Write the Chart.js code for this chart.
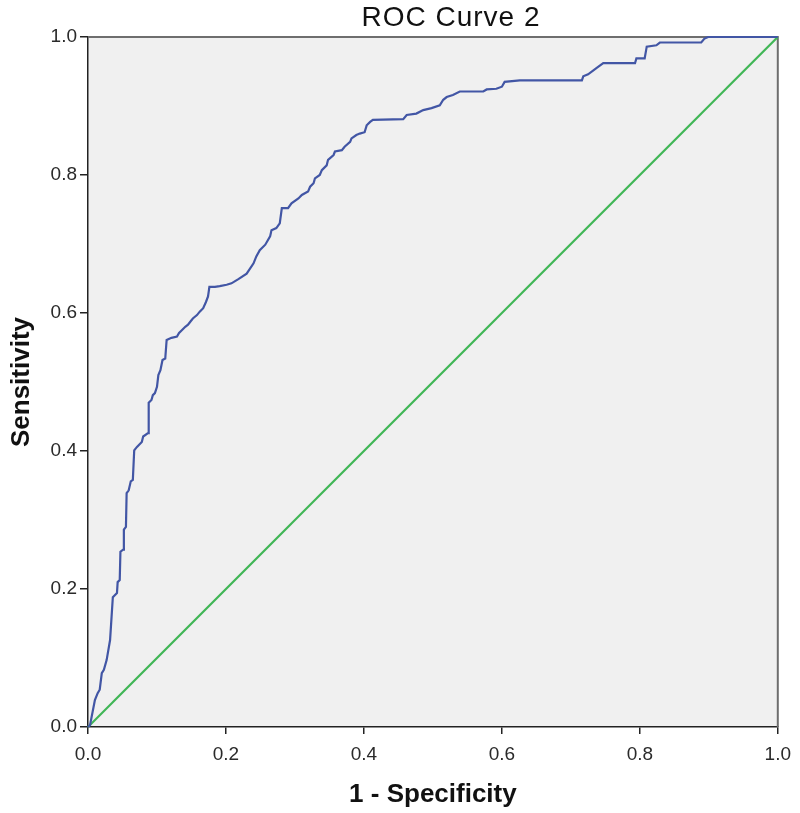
<!DOCTYPE html>
<html>
<head>
<meta charset="utf-8">
<script src="https://cdn.jsdelivr.net/npm/chart.js@4"></script>
<style>
  html, body { margin: 0; padding: 0; background: #ffffff; }
  #wrap { width: 800px; height: 813px; position: relative; }
</style>
</head>
<body>
<div id="wrap"><canvas id="c" width="800" height="813"></canvas></div>
<script>
// ROC curve vertices (1 - Specificity, Sensitivity)
const fpr = [0,0.003,0.010,0.014,0.017,0.020,0.023,0.027,0.032,0.036,
  0.042,0.043,0.046,0.047,0.051,0.052,0.055,0.056,0.059,0.062,
  0.065,0.067,0.071,0.078,0.080,0.087,0.088,0.092,0.094,0.097,
  0.100,0.102,0.105,0.108,0.112,0.114,0.121,0.129,0.132,0.136,
  0.141,0.145,0.148,0.152,0.158,0.162,0.167,0.171,0.174,0.176,
  0.184,0.191,0.201,0.208,0.218,0.230,0.240,0.244,0.249,0.257,
  0.264,0.266,0.273,0.278,0.281,0.290,0.295,0.305,0.310,0.319,
  0.322,0.327,0.329,0.336,0.339,0.346,0.348,0.356,0.358,0.368,
  0.372,0.380,0.382,0.389,0.394,0.401,0.404,0.409,0.413,0.457,
  0.462,0.476,0.486,0.498,0.510,0.515,0.520,0.529,0.539,0.573,
  0.578,0.592,0.600,0.604,0.626,0.716,0.718,0.725,0.737,0.747,
  0.793,0.795,0.807,0.810,0.824,0.829,0.889,0.894,0.899,1.0];
const tpr = [0,0.003,0.039,0.049,0.054,0.078,0.083,0.097,0.126,0.188,
  0.194,0.210,0.213,0.254,0.257,0.286,0.290,0.339,0.343,0.356,
  0.358,0.401,0.406,0.413,0.421,0.426,0.470,0.474,0.481,0.484,
  0.493,0.510,0.517,0.532,0.534,0.561,0.564,0.566,0.571,0.575,
  0.580,0.583,0.587,0.592,0.597,0.602,0.607,0.616,0.624,0.638,
  0.638,0.639,0.641,0.643,0.649,0.657,0.672,0.682,0.691,0.699,
  0.711,0.720,0.723,0.730,0.752,0.752,0.759,0.766,0.771,0.776,
  0.783,0.788,0.795,0.800,0.807,0.814,0.822,0.829,0.834,0.836,
  0.841,0.848,0.853,0.858,0.860,0.862,0.872,0.877,0.880,0.881,
  0.887,0.889,0.894,0.897,0.901,0.909,0.913,0.916,0.921,0.921,
  0.924,0.925,0.928,0.935,0.937,0.937,0.943,0.946,0.955,0.962,
  0.962,0.969,0.969,0.986,0.988,0.992,0.992,0.998,1.0,1.0];
// Reference (diagonal) line
const refX = [0, 1];
const refY = [0, 1];
// Axis ticks
const tickValues = [0.0, 0.2, 0.4, 0.6, 0.8, 1.0];
const titleText = "ROC Curve 2";
const xTitle = "1 - Specificity";
const yTitle = "Sensitivity";

const rocPoints = fpr.map((x, i) => ({ x: x, y: tpr[i] }));
const refPoints = refX.map((x, i) => ({ x: x, y: refY[i] }));

const FONT = "'Liberation Sans', Arial, sans-serif";

const plotBg = {
  id: 'plotBg',
  beforeDraw(chart) {
    const a = chart.chartArea, ctx = chart.ctx;
    ctx.save();
    ctx.fillStyle = '#f0f0f0';
    ctx.fillRect(a.left, a.top, a.right - a.left, a.bottom - a.top);
    ctx.restore();
  },
  beforeDatasetsDraw(chart) {
    const a = chart.chartArea, ctx = chart.ctx;
    ctx.save();
    ctx.strokeStyle = '#6e6e6e';
    ctx.lineWidth = 2;
    ctx.beginPath();
    ctx.moveTo(a.left, a.top);
    ctx.lineTo(a.right, a.top);
    ctx.lineTo(a.right, a.bottom);
    ctx.stroke();
    ctx.restore();
  },
  afterDraw(chart) {
    // Chart title, placed as in the reference (slightly right of centre)
    const ctx = chart.ctx;
    ctx.save();
    ctx.fillStyle = '#111';
    ctx.font = "28px " + FONT;
    if ('letterSpacing' in ctx) ctx.letterSpacing = '1px';
    ctx.textAlign = 'center';
    ctx.textBaseline = 'middle';
    ctx.fillText(titleText, 451, 18);
    ctx.restore();
  }
};

new Chart(document.getElementById('c'), {
  type: 'scatter',
  data: {
    datasets: [
      {
        label: 'ROC',
        data: rocPoints,
        showLine: true,
        borderColor: 'rgb(66,86,165)',
        borderWidth: 2.2,
        pointRadius: 0,
        tension: 0,
        clip: 4,
        order: 1
      },
      {
        label: 'Reference',
        data: refPoints,
        showLine: true,
        borderColor: 'rgb(64,182,86)',
        borderWidth: 2.2,
        pointRadius: 0,
        clip: 4,
        order: 2
      }
    ]
  },
  options: {
    responsive: false,
    animation: false,
    devicePixelRatio: 1,
    layout: { padding: { left: 0, right: 21, top: 37, bottom: 0 } },
    plugins: {
      legend: { display: false },
      tooltip: { enabled: false },
      title: { display: false }
    },
    scales: {
      x: {
        type: 'linear',
        min: 0, max: 1,
        afterBuildTicks(scale) { scale.ticks = tickValues.map(v => ({ value: v })); },
        afterFit(scale) { scale.height = 86; },
        grid: { display: true, drawOnChartArea: false, drawTicks: true, tickLength: 7, color: '#222', lineWidth: 1.5 },
        border: { display: true, color: '#222', width: 1.5 },
        ticks: {
          color: '#2a2a2a',
          padding: 9,
          maxRotation: 0,
          font: { family: FONT, size: 19 },
          callback: v => Number(v).toFixed(1)
        },
        title: {
          display: true,
          text: xTitle,
          color: '#111',
          font: { family: FONT, size: 26, weight: 'bold', lineHeight: 1.2 },
          padding: { top: 0, bottom: 3 }
        }
      },
      y: {
        type: 'linear',
        min: 0, max: 1,
        afterBuildTicks(scale) { scale.ticks = tickValues.map(v => ({ value: v })); },
        afterFit(scale) { scale.width = 88; },
        grid: { display: true, drawOnChartArea: false, drawTicks: true, tickLength: 8, color: '#222', lineWidth: 1.5 },
        border: { display: true, color: '#222', width: 1.5 },
        ticks: {
          color: '#2a2a2a',
          padding: 3,
          font: { family: FONT, size: 19 },
          callback: v => Number(v).toFixed(1)
        },
        title: {
          display: true,
          text: yTitle,
          color: '#111',
          font: { family: FONT, size: 26, weight: 'bold', lineHeight: 1.2 },
          padding: { top: 6, bottom: 0 }
        }
      }
    }
  },
  plugins: [plotBg]
});
</script>
</body>
</html>
